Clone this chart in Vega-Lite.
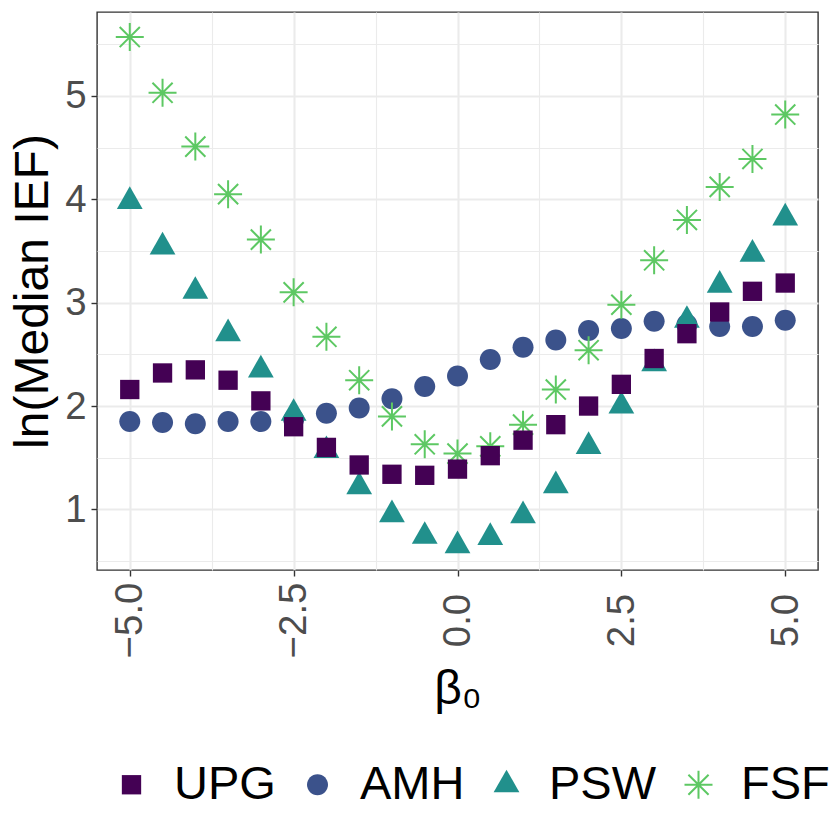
{
  "$schema": "https://vega.github.io/schema/vega-lite/v6.json",
  "width": 721,
  "height": 558,
  "autosize": {"type": "none"},
  "padding": {"left": 97, "top": 12, "right": 12, "bottom": 260},
  "background": "white",
  "config": {
    "view": {"stroke": "#333333", "strokeWidth": 1.4},
    "font": "Liberation Sans"
  },
  "data": {
    "values": [
      {"method": "AMH", "beta0": -5, "lnIEF": 1.85},
      {"method": "AMH", "beta0": -4.5, "lnIEF": 1.84},
      {"method": "AMH", "beta0": -4, "lnIEF": 1.83},
      {"method": "AMH", "beta0": -3.5, "lnIEF": 1.85},
      {"method": "AMH", "beta0": -3, "lnIEF": 1.85},
      {"method": "AMH", "beta0": -2.5, "lnIEF": 1.87},
      {"method": "AMH", "beta0": -2, "lnIEF": 1.93},
      {"method": "AMH", "beta0": -1.5, "lnIEF": 1.98},
      {"method": "AMH", "beta0": -1, "lnIEF": 2.07},
      {"method": "AMH", "beta0": -0.5, "lnIEF": 2.19},
      {"method": "AMH", "beta0": 0, "lnIEF": 2.29},
      {"method": "AMH", "beta0": 0.5, "lnIEF": 2.45},
      {"method": "AMH", "beta0": 1, "lnIEF": 2.57},
      {"method": "AMH", "beta0": 1.5, "lnIEF": 2.64},
      {"method": "AMH", "beta0": 2, "lnIEF": 2.73},
      {"method": "AMH", "beta0": 2.5, "lnIEF": 2.75},
      {"method": "AMH", "beta0": 3, "lnIEF": 2.82},
      {"method": "AMH", "beta0": 3.5, "lnIEF": 2.79},
      {"method": "AMH", "beta0": 4, "lnIEF": 2.77},
      {"method": "AMH", "beta0": 4.5, "lnIEF": 2.77},
      {"method": "AMH", "beta0": 5, "lnIEF": 2.83},
      {"method": "FSF", "beta0": -5, "lnIEF": 5.57},
      {"method": "FSF", "beta0": -4.5, "lnIEF": 5.03},
      {"method": "FSF", "beta0": -4, "lnIEF": 4.51},
      {"method": "FSF", "beta0": -3.5, "lnIEF": 4.05},
      {"method": "FSF", "beta0": -3, "lnIEF": 3.61},
      {"method": "FSF", "beta0": -2.5, "lnIEF": 3.10},
      {"method": "FSF", "beta0": -2, "lnIEF": 2.67},
      {"method": "FSF", "beta0": -1.5, "lnIEF": 2.25},
      {"method": "FSF", "beta0": -1, "lnIEF": 1.90},
      {"method": "FSF", "beta0": -0.5, "lnIEF": 1.63},
      {"method": "FSF", "beta0": 0, "lnIEF": 1.54},
      {"method": "FSF", "beta0": 0.5, "lnIEF": 1.61},
      {"method": "FSF", "beta0": 1, "lnIEF": 1.82},
      {"method": "FSF", "beta0": 1.5, "lnIEF": 2.16},
      {"method": "FSF", "beta0": 2, "lnIEF": 2.54},
      {"method": "FSF", "beta0": 2.5, "lnIEF": 2.98},
      {"method": "FSF", "beta0": 3, "lnIEF": 3.41},
      {"method": "FSF", "beta0": 3.5, "lnIEF": 3.80},
      {"method": "FSF", "beta0": 4, "lnIEF": 4.12},
      {"method": "FSF", "beta0": 4.5, "lnIEF": 4.39},
      {"method": "FSF", "beta0": 5, "lnIEF": 4.82},
      {"method": "PSW", "beta0": -5, "lnIEF": 3.98},
      {"method": "PSW", "beta0": -4.5, "lnIEF": 3.54},
      {"method": "PSW", "beta0": -4, "lnIEF": 3.11},
      {"method": "PSW", "beta0": -3.5, "lnIEF": 2.70},
      {"method": "PSW", "beta0": -3, "lnIEF": 2.35},
      {"method": "PSW", "beta0": -2.5, "lnIEF": 1.93},
      {"method": "PSW", "beta0": -2, "lnIEF": 1.57},
      {"method": "PSW", "beta0": -1.5, "lnIEF": 1.22},
      {"method": "PSW", "beta0": -1, "lnIEF": 0.95},
      {"method": "PSW", "beta0": -0.5, "lnIEF": 0.74},
      {"method": "PSW", "beta0": 0, "lnIEF": 0.65},
      {"method": "PSW", "beta0": 0.5, "lnIEF": 0.73},
      {"method": "PSW", "beta0": 1, "lnIEF": 0.94},
      {"method": "PSW", "beta0": 1.5, "lnIEF": 1.23},
      {"method": "PSW", "beta0": 2, "lnIEF": 1.61},
      {"method": "PSW", "beta0": 2.5, "lnIEF": 2.00},
      {"method": "PSW", "beta0": 3, "lnIEF": 2.41},
      {"method": "PSW", "beta0": 3.5, "lnIEF": 2.83},
      {"method": "PSW", "beta0": 4, "lnIEF": 3.17},
      {"method": "PSW", "beta0": 4.5, "lnIEF": 3.47},
      {"method": "PSW", "beta0": 5, "lnIEF": 3.82},
      {"method": "UPG", "beta0": -5, "lnIEF": 2.16},
      {"method": "UPG", "beta0": -4.5, "lnIEF": 2.32},
      {"method": "UPG", "beta0": -4, "lnIEF": 2.35},
      {"method": "UPG", "beta0": -3.5, "lnIEF": 2.25},
      {"method": "UPG", "beta0": -3, "lnIEF": 2.05},
      {"method": "UPG", "beta0": -2.5, "lnIEF": 1.80},
      {"method": "UPG", "beta0": -2, "lnIEF": 1.60},
      {"method": "UPG", "beta0": -1.5, "lnIEF": 1.43},
      {"method": "UPG", "beta0": -1, "lnIEF": 1.34},
      {"method": "UPG", "beta0": -0.5, "lnIEF": 1.33},
      {"method": "UPG", "beta0": 0, "lnIEF": 1.39},
      {"method": "UPG", "beta0": 0.5, "lnIEF": 1.52},
      {"method": "UPG", "beta0": 1, "lnIEF": 1.67},
      {"method": "UPG", "beta0": 1.5, "lnIEF": 1.82},
      {"method": "UPG", "beta0": 2, "lnIEF": 2.00},
      {"method": "UPG", "beta0": 2.5, "lnIEF": 2.21},
      {"method": "UPG", "beta0": 3, "lnIEF": 2.46},
      {"method": "UPG", "beta0": 3.5, "lnIEF": 2.70},
      {"method": "UPG", "beta0": 4, "lnIEF": 2.91},
      {"method": "UPG", "beta0": 4.5, "lnIEF": 3.11},
      {"method": "UPG", "beta0": 5, "lnIEF": 3.19}
    ]
  },
  "mark": {"type": "point", "opacity": 1, "strokeWidth": 2, "size": 784},
  "encoding": {
    "x": {
      "field": "beta0",
      "type": "quantitative",
      "scale": {"domain": [-5.5, 5.5], "nice": false, "zero": false},
      "axis": {
        "values": [-5, -3.75, -2.5, -1.25, 0, 1.25, 2.5, 3.75, 5],
        "title": "β₀",
        "titleFont": "Liberation Sans",
        "titleFontSize": 48,
        "titleFontWeight": "normal",
        "titleColor": "black",
        "titleX": 360.5,
        "titleY": 133,
        "titleAlign": "center",
        "titleBaseline": "alphabetic",
        "labelExpr": "datum.value % 2.5 === 0 ? format(datum.value, '.1f') : ''",
        "labelAngle": 270,
        "labelAlign": "center",
        "labelBaseline": "middle",
        "labelPadding": 44,
        "labelFont": "Liberation Sans",
        "labelFontSize": 38.4,
        "labelColor": "#4D4D4D",
        "labelOverlap": false,
        "labelFlush": false,
        "labelBound": false,
        "tickSize": 6,
        "tickColor": "#333333",
        "tickWidth": 1.4,
        "tickOpacity": {"condition": {"test": "datum.value % 2.5 === 0", "value": 1}, "value": 0},
        "domain": false,
        "grid": true,
        "gridColor": "#EBEBEB",
        "gridWidth": {"condition": {"test": "datum.value % 2.5 === 0", "value": 2.1}, "value": 1.1}
      }
    },
    "y": {
      "field": "lnIEF",
      "type": "quantitative",
      "scale": {"domain": [0.414, 5.812], "nice": false, "zero": false},
      "axis": {
        "values": [0.5, 1, 1.5, 2, 2.5, 3, 3.5, 4, 4.5, 5, 5.5],
        "title": "ln(Median IEF)",
        "titleFont": "Liberation Sans",
        "titleFontSize": 48,
        "titleFontWeight": "normal",
        "titleColor": "black",
        "titleAngle": 270,
        "titleX": -50,
        "titleY": 279,
        "titleAlign": "center",
        "titleBaseline": "alphabetic",
        "labelExpr": "datum.value % 1 === 0 ? format(datum.value, 'd') : ''",
        "labelPadding": 5,
        "labelFont": "Liberation Sans",
        "labelFontSize": 38.4,
        "labelColor": "#4D4D4D",
        "labelOverlap": false,
        "labelFlush": false,
        "labelBound": false,
        "tickSize": 6,
        "tickColor": "#333333",
        "tickWidth": 1.4,
        "tickOpacity": {"condition": {"test": "datum.value % 1 === 0", "value": 1}, "value": 0},
        "domain": false,
        "grid": true,
        "gridColor": "#EBEBEB",
        "gridWidth": {"condition": {"test": "datum.value % 1 === 0", "value": 2.1}, "value": 1.1}
      }
    },
    "shape": {
      "field": "method",
      "type": "nominal",
      "scale": {
        "domain": ["UPG", "AMH", "PSW", "FSF"],
        "range": [
          "M-0.69,-0.69H0.69V0.69H-0.69Z",
          "M0.75,0A0.75,0.75,0,1,1,-0.75,0A0.75,0.75,0,1,1,0.75,0Z",
          "M0,-1.08L0.92,0.54L-0.92,0.54Z",
          "M0,-1V1M-1,0H1M-0.72,-0.72L0.72,0.72M-0.72,0.72L0.72,-0.72"
        ]
      },
      "legend": {
        "orient": "none", "legendX": 11, "legendY": 749, "direction": "horizontal", "title": null,
        "labelFont": "Liberation Sans", "labelFontSize": 47, "labelColor": "black",
        "symbolSize": 784, "symbolStrokeWidth": 2, "symbolOpacity": 1,
        "labelOffset": 19, "columnPadding": 18, "padding": 0
      }
    },
    "fill": {
      "field": "method",
      "type": "nominal",
      "scale": {
        "domain": ["UPG", "AMH", "PSW", "FSF"],
        "range": ["#440154", "#3B528B", "#21908C", "#5DC863"]
      },
      "legend": {
        "orient": "none", "legendX": 11, "legendY": 749, "direction": "horizontal", "title": null,
        "labelFont": "Liberation Sans", "labelFontSize": 47, "labelColor": "black",
        "symbolSize": 784, "symbolStrokeWidth": 2, "symbolOpacity": 1,
        "labelOffset": 19, "columnPadding": 18, "padding": 0
      }
    },
    "stroke": {
      "field": "method",
      "type": "nominal",
      "scale": {
        "domain": ["UPG", "AMH", "PSW", "FSF"],
        "range": ["transparent", "transparent", "transparent", "#5DC863"]
      },
      "legend": {
        "orient": "none", "legendX": 11, "legendY": 749, "direction": "horizontal", "title": null,
        "labelFont": "Liberation Sans", "labelFontSize": 47, "labelColor": "black",
        "symbolSize": 784, "symbolStrokeWidth": 2, "symbolOpacity": 1,
        "labelOffset": 19, "columnPadding": 18, "padding": 0
      }
    }
  }
}
